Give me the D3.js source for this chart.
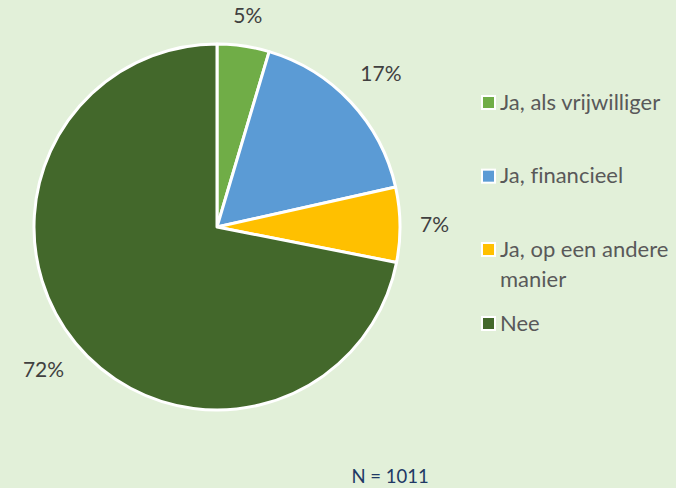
<!DOCTYPE html>
<html>
<head>
<meta charset="utf-8">
<script src="https://cdn.jsdelivr.net/npm/d3@7"></script>
<style>
  body { margin: 0; background: #E2F0D9; }
  svg { display: block; font-family: Lato, "Open Sans", sans-serif; font-variant-ligatures: none; }
</style>
</head>
<body>
<div id="chart"></div>
<script>
// data
var categories = ["Ja, als vrijwilliger", "Ja, financieel", "Ja, op een andere manier", "Nee"];
var legendLines = [["Ja, als vrijwilliger"], ["Ja, financieel"], ["Ja, op een andere", "manier"], ["Nee"]];
var values = [4.6, 16.9, 6.6, 71.9];
var labels = ["5%", "17%", "7%", "72%"];
var colors = ["#70AD47", "#5B9BD5", "#FFC000", "#43682B"];
var note = "N = 1011";

var width = 676, height = 488;
var cx = 217, cy = 227, radius = 183;

var svg = d3.select("#chart").append("svg")
    .attr("width", width)
    .attr("height", height);

svg.append("rect").attr("width", width).attr("height", height).attr("fill", "#E2F0D9");

var pie = d3.pie().sort(null).value(function(d) { return d; });
var arc = d3.arc().innerRadius(0).outerRadius(radius);
var arcs = pie(values);

var g = svg.append("g").attr("transform", "translate(" + cx + "," + cy + ")");

g.selectAll("path")
    .data(arcs)
  .enter().append("path")
    .attr("d", arc)
    .attr("fill", function(d, i) { return colors[i]; })
    .attr("stroke", "#fff")
    .attr("stroke-width", 3)
    .attr("stroke-linejoin", "round");

// data labels outside the pie
var gap = 20;
g.selectAll("text.lbl")
    .data(arcs)
  .enter().append("text")
    .attr("class", "lbl")
    .attr("text-anchor", "middle")
    .attr("dy", "0.35em")
    .attr("font-size", 21)
    .attr("fill", "#404040")
    .text(function(d, i) { return labels[i]; })
    .each(function(d) {
      var a = (d.startAngle + d.endAngle) / 2;
      var bb = this.getBBox();
      var proj = Math.abs(Math.sin(a)) * bb.width / 2 + Math.abs(Math.cos(a)) * bb.height / 2.8;
      var r = radius + gap + proj;
      d3.select(this)
        .attr("x", Math.sin(a) * r)
        .attr("y", -Math.cos(a) * r);
    });

// legend
var legendY = d3.scalePoint().domain(categories).range([102, 323]);
var legend = svg.append("g").attr("transform", "translate(481,0)");
var item = legend.selectAll("g")
    .data(categories)
  .enter().append("g")
    .attr("transform", function(d, i) {
      var y = legendY(d);
      if (i === 2) y = 249;
      return "translate(0," + y + ")";
    });

item.append("rect")
    .attr("x", 1).attr("y", -6)
    .attr("width", 13).attr("height", 13)
    .attr("fill", function(d, i) { return colors[i]; })
    .attr("stroke", "#fff")
    .attr("stroke-width", 2);

item.append("text")
    .attr("x", 19)
    .attr("font-size", 22)
    .attr("fill", "#595959")
    .each(function(d, i) {
      var t = d3.select(this);
      legendLines[i].forEach(function(line, j) {
        t.append("tspan").attr("x", 19).attr("dy", j === 0 ? "0.35em" : 30).text(line);
      });
    });

svg.append("text")
    .attr("x", 390)
    .attr("y", 483)
    .attr("text-anchor", "middle")
    .attr("font-size", 18.5)
    .attr("fill", "#203864")
    .text(note);
</script>
</body>
</html>
